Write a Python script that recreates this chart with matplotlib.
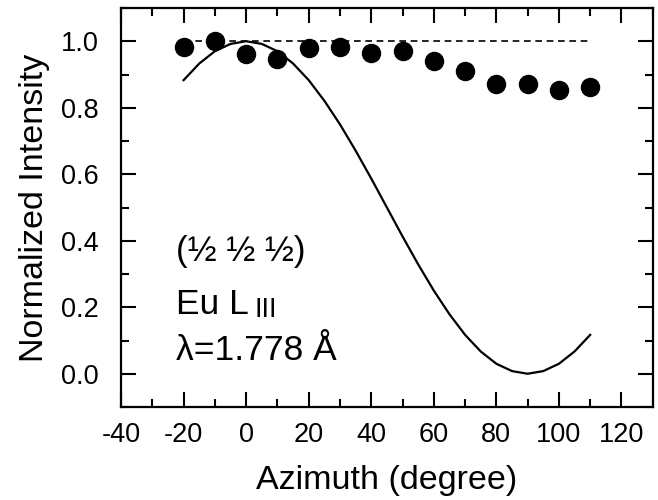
import matplotlib
matplotlib.use("Agg")
import matplotlib.pyplot as plt
from matplotlib.ticker import MultipleLocator, FormatStrFormatter

plt.rcParams['font.family'] = ['Liberation Sans', 'DejaVu Sans']
plt.rcParams['axes.unicode_minus'] = False

# measured points
azimuth = [-20, -10, 0, 10, 20, 30, 40, 50, 60, 70, 80, 90, 100, 110]
intensity = [0.984, 1.002, 0.962, 0.946, 0.979, 0.983, 0.965, 0.972,
             0.941, 0.911, 0.872, 0.872, 0.852, 0.862]

# model curve
curve_x = [-20, -15, -10, -5, 0, 5, 10, 15, 20, 25, 30, 35, 40, 45, 50,
           55, 60, 65, 70, 75, 80, 85, 90, 95, 100, 105, 110]
curve_y = [0.883, 0.933, 0.970, 0.992, 1.000, 0.992, 0.970, 0.933, 0.883,
           0.821, 0.750, 0.671, 0.587, 0.500, 0.413, 0.329, 0.250, 0.179,
           0.117, 0.067, 0.030, 0.008, 0.000, 0.008, 0.030, 0.067, 0.117]

ref_x = [-20, 110]
ref_y = [1.0, 1.0]

fig = plt.figure(figsize=(6.58, 5.0), dpi=100)
ax = fig.add_axes([0.184, 0.186, 0.808, 0.798])

ax.plot(ref_x, ref_y, color='black', lw=1.2, dashes=(4, 2.8))
ax.plot(curve_x, curve_y, color='black', lw=1.6)
ax.plot(azimuth, intensity, 'o', color='black', ms=13, mec='black')

ax.set_xlim(-40, 130)
ax.set_ylim(-0.1, 1.1)
ax.xaxis.set_major_locator(MultipleLocator(20))
ax.xaxis.set_minor_locator(MultipleLocator(10))
ax.yaxis.set_major_locator(MultipleLocator(0.2))
ax.yaxis.set_minor_locator(MultipleLocator(0.1))
ax.yaxis.set_major_formatter(FormatStrFormatter('%.1f'))

ax.tick_params(which='both', direction='in', top=True, right=True,
               width=1.5, labelsize=19.5)
ax.tick_params(which='major', length=11)
ax.tick_params(which='minor', length=6)
ax.tick_params(axis='x', which='major', pad=11)
ax.tick_params(axis='y', which='major', pad=16)
for s in ax.spines.values():
    s.set_linewidth(1.6)

ax.set_xlabel('Azimuth (degree)', fontsize=24.5, labelpad=12)
ax.set_ylabel('Normalized Intensity', fontsize=24.5, labelpad=8)

ax.text(-22.5, 0.338, '(½ ½ ½)', fontsize=25, va='baseline')
eu = ax.text(-22.5, 0.179, 'Eu L', fontsize=25.5, va='baseline')
ax.annotate('III', xy=(1, 0), xycoords=eu, xytext=(4, -1),
            textcoords='offset points', fontsize=19.5, va='bottom')
ax.text(-22.5, 0.041, 'λ=1.778 Å', fontsize=25.5, va='baseline')

fig.savefig('out.png', dpi=100)
